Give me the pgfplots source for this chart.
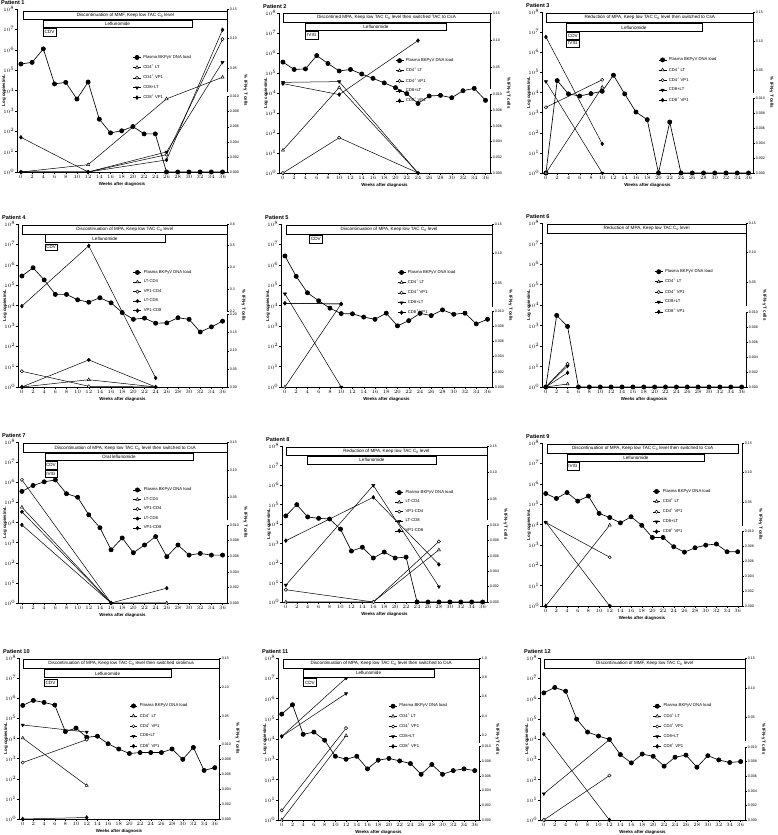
\documentclass[border=0pt]{standalone}
\usepackage{fontspec}
\setmainfont{Liberation Sans}
\usepackage{pgfplots}
\pgfplotsset{compat=1.18}
\newcommand{\setmap}[5]{\def\mapL{#1}\def\mappL{#2}\def\mapUz{#3}\def\mappU{#4}\def\mapUo{#5}}
\newcommand{\tmapexpr}{10^(\thisrow{v}>\mapL ? \mappU+(\thisrow{v}-\mapUz)/(\mapUo-\mapUz)*(8-\mappU) : \thisrow{v}/\mapL*\mappL)}
\newcommand{\legA}{\legend{Plasma BKPyV DNA load, CD4\textsuperscript{+} LT, CD4\textsuperscript{+} VP1, CD8+LT, CD8\textsuperscript{+} VP1}}
\newcommand{\legB}{\legend{Plasma BKPyV DNA load, LT-CD4, VP1-CD4, LT-CD8, VP1-CD8}}
\tikzset{
  ptitle/.style={anchor=south west, font=\bfseries\fontsize{5.6}{6}\selectfont, inner sep=0pt, xshift=-16pt, yshift=4pt},
  boxsty/.style={draw=black, line width=0.5pt, fill=white},
  boxtxt/.style={font=\fontsize{4.6}{5}\selectfont, inner sep=0pt, text=black},
  axseg/.style={line width=0.5pt, black},
}
\pgfplotsset{
  shortleg/.style={legend image code/.code={\draw[mark repeat=2,mark phase=2,##1] plot coordinates {(0cm,0cm) (0.14cm,0cm) (0.28cm,0cm)};}},
  mainax/.style={scale only axis, anchor=north west, clip=false,
    xmin=-0.7, xmax=36.8, ymin=1, ymax=1e8,
    axis x line*=bottom, axis y line*=left,
    axis line style={-, line width=0.5pt},
    xtick={0,2,...,36}, ytick={1,10,100,1000,1e4,1e5,1e6,1e7,1e8},
    yminorticks=false,
    tick align=outside, major tick length=1.6pt, tick style={line width=0.4pt, black},
    tick label style={font=\fontsize{3.6}{4}\selectfont, inner sep=1pt},
    xlabel={Weeks after diagnosis}, ylabel={Log copies/mL},
    every axis label/.append style={font=\bfseries\fontsize{4.4}{5}\selectfont},
    every axis y label/.style={at={(rel axis cs:0,0.5)}, xshift=-13pt, rotate=90, anchor=center, font=\bfseries\fontsize{4.4}{5}\selectfont},
    legend style={at={(0.55,0.73)}, anchor=north west, draw=none, fill=none,
      font=\fontsize{4.2}{4.6}\selectfont, inner sep=0pt, row sep=1.1pt},
    legend cell align=left,
  },
  rightax/.style={scale only axis, anchor=north west, clip=false,
    xmin=-0.7, xmax=36.8, ymin=0, ymax=8,
    axis x line=none, axis y line*=right, axis line style={draw=none},
    tick align=outside, major tick length=1.6pt, tick style={line width=0.4pt, black},
    yticklabel style={font=\fontsize{3.6}{4}\selectfont, inner sep=1pt},
    ylabel={\% IFN-γ T cells}, ylabel style={font=\bfseries\fontsize{4.4}{5}\selectfont, rotate=180},
  },
  sPlasma/.style={shortleg, black, line width=0.65pt, mark=*, mark size=2.1pt},
  sCfourLT/.style={shortleg, black, line width=0.5pt, mark=triangle*, mark options={fill=white}, mark size=1.8pt},
  sCfourVP/.style={shortleg, black, line width=0.5pt, mark=*, mark options={fill=white}, mark size=1.6pt},
  sCeightLT/.style={shortleg, black, line width=0.5pt, mark=triangle*, mark options={rotate=180}, mark size=1.8pt},
  sCeightVP/.style={shortleg, black, line width=0.5pt, mark=diamond*, mark size=1.9pt},
}
\begin{document}
\begin{tikzpicture}
\useasboundingbox (0,0) rectangle (778pt,835pt);
% ================= Patient 1
\setmap{0.01}{3.7}{0.01}{3.95}{0.15}
\begin{axis}[mainax, ymode=log, at={(17pt,826pt)}, width=210pt, height=163pt]
\addplot[sPlasma] coordinates {(0,2.0e5)(2,2.4e5)(4,1.1e6)(6,2.1e4)(8,2.5e4)(10,3.8e3)(12,2.6e4)(14,390)(16,83)(18,105)(20,170)(22,74)(24,74)(26,1)(28,1)(30,1)(32,1)(34,1)(36,1)};
\addplot[sCfourLT] table[x=w,y expr=\tmapexpr,row sep=\\]{w v\\0 0\\12 0.00097\\26 0.0097\\36 0.0342\\};
\addplot[sCfourVP] table[x=w,y expr=\tmapexpr,row sep=\\]{w v\\0 0\\12 0\\26 0.0023\\36 0.0988\\};
\addplot[sCeightLT] table[x=w,y expr=\tmapexpr,row sep=\\]{w v\\0 0\\12 0\\26 0.00266\\36 0.0598\\};
\addplot[sCeightVP] table[x=w,y expr=\tmapexpr,row sep=\\]{w v\\0 0.0046\\12 0\\26 0.0016\\36 0.1147\\};
\legA
\node[ptitle] at (rel axis cs:0,1) {Patient 1};
\end{axis}
\begin{axis}[rightax, at={(17pt,826pt)}, width=210pt, height=163pt,
  ytick={0,0.74,1.48,2.22,2.96,3.7,5.107,6.554,8}, yticklabels={0.000,0.002,0.004,0.006,0.008,0.010,0.05,0.10,0.15}]
\draw[axseg] (axis cs:36.8,0) -- (axis cs:36.8,3.7);
\draw[axseg] (axis cs:36.8,3.95) -- (axis cs:36.8,8);
\draw[boxsty] (axis cs:0.5,7.5) rectangle node[boxtxt]{Discontinuation of MMF, Keep low TAC C\textsubscript{0} level} (axis cs:36.8,7.9);
\draw[boxsty] (axis cs:3.9,7.08) rectangle node[boxtxt]{Leflunomide} (axis cs:30.6,7.46);
\draw[boxsty] (axis cs:3.9,6.67) rectangle node[boxtxt]{CDV} (axis cs:6.3,7.05);
\end{axis}
% ================= Patient 2
\setmap{0.01}{3.92}{0.01}{4.2}{0.15}
\begin{axis}[mainax, ymode=log, at={(279pt,822pt)}, width=211pt, height=160pt]
\addplot[sPlasma] coordinates {(0,3.5e5)(2,1.5e5)(4,1.6e5)(6,7.4e5)(8,3.0e5)(10,1.26e5)(12,1.5e5)(14,8.9e4)(16,5.4e4)(18,3.2e4)(20,1.85e4)(22,9.3e3)(24,3.0e3)(26,7.1e3)(28,7.6e3)(30,5.8e3)(32,1.3e4)(34,1.7e4)(36,4.3e3)};
\addplot[sCfourLT] table[x=w,y expr=\tmapexpr,row sep=\\]{w v\\0 0.0029\\10 0.0126\\24 0\\};
\addplot[sCfourVP] table[x=w,y expr=\tmapexpr,row sep=\\]{w v\\0 0\\10 0.0045\\24 0\\};
\addplot[sCeightLT] table[x=w,y expr=\tmapexpr,row sep=\\]{w v\\0 0.0222\\10 0.0236\\24 0\\};
\addplot[sCeightVP] table[x=w,y expr=\tmapexpr,row sep=\\]{w v\\0 0.0199\\10 0.0100\\24 0.0992\\};
\legA
\node[ptitle] at (rel axis cs:0,1) {Patient 2};
\end{axis}
\begin{axis}[rightax, at={(279pt,822pt)}, width=211pt, height=160pt,
  ytick={0,0.784,1.568,2.352,3.136,3.92,5.286,6.643,8}, yticklabels={0.000,0.002,0.004,0.006,0.008,0.010,0.05,0.10,0.15}]
\draw[axseg] (axis cs:36.8,0) -- (axis cs:36.8,3.92);
\draw[axseg] (axis cs:36.8,4.2) -- (axis cs:36.8,8);
\draw[boxsty] (axis cs:0,7.55) rectangle node[boxtxt]{Discontined MPA, Keep low TAC C\textsubscript{0} level then switched TAC to CsA} (axis cs:36.8,7.97);
\draw[boxsty] (axis cs:3.95,7.13) rectangle node[boxtxt]{Leflunomide} (axis cs:29.1,7.5);
\draw[boxsty] (axis cs:3.95,6.7) rectangle node[boxtxt]{IVIG} (axis cs:6.3,7.08);
\end{axis}
% ================= Patient 3
\setmap{0.01}{3.71}{0.01}{3.95}{0.15}
\begin{axis}[mainax, ymode=log, at={(542pt,823pt)}, width=211pt, height=161pt]
\addplot[sPlasma] coordinates {(0,1)(2,3.9e4)(4,8.5e3)(6,6.7e3)(8,8.8e3)(10,1.15e4)(12,7.2e4)(14,8.5e3)(16,1.07e3)(18,445)(20,1)(22,340)(24,1)(26,1)(28,1)(30,1)(32,1)(34,1)(36,1)};
\addplot[sCfourLT] table[x=w,y expr=\tmapexpr,row sep=\\]{w v\\0 0\\10 0.0207\\};
\addplot[sCfourVP] table[x=w,y expr=\tmapexpr,row sep=\\]{w v\\0 0.0088\\10 0.0335\\};
\addplot[sCeightLT] table[x=w,y expr=\tmapexpr,row sep=\\]{w v\\0 0.0304\\10 0\\};
\addplot[sCeightVP] table[x=w,y expr=\tmapexpr,row sep=\\]{w v\\0 0.107\\10 0.0039\\};
\legA
\node[ptitle] at (rel axis cs:0,1) {Patient 3};
\end{axis}
\begin{axis}[rightax, at={(542pt,823pt)}, width=211pt, height=161pt,
  ytick={0,0.742,1.484,2.226,2.968,3.71,5.107,6.554,8}, yticklabels={0.000,0.002,0.004,0.006,0.008,0.010,0.05,0.10,0.15}]
\draw[axseg] (axis cs:36.8,0) -- (axis cs:36.8,3.71);
\draw[axseg] (axis cs:36.8,3.95) -- (axis cs:36.8,8);
\draw[boxsty] (axis cs:0.1,7.49) rectangle node[boxtxt]{Reduction of MPA, Keep low TAC C\textsubscript{0} level then switched to CsA} (axis cs:36.8,7.94);
\draw[boxsty] (axis cs:3.6,7.02) rectangle node[boxtxt]{Leflunomide} (axis cs:27.7,7.44);
\draw[boxsty] (axis cs:3.6,6.65) rectangle node[boxtxt]{CDV} (axis cs:5.95,7.0);
\draw[boxsty] (axis cs:3.6,6.26) rectangle node[boxtxt]{IVIG} (axis cs:5.95,6.62);
\end{axis}
% ================= Patient 4
\setmap{0.2}{3.56}{0.2}{3.74}{0.6}
\begin{axis}[mainax, ymode=log, at={(18pt,611pt)}, width=209pt, height=163pt]
\addplot[sPlasma] coordinates {(0,2.8e5)(2,7.1e5)(4,1.8e5)(6,3.5e4)(8,3.5e4)(10,1.9e4)(12,1.45e4)(14,2.4e4)(16,1.35e4)(18,4.5e3)(20,2.1e3)(22,2.4e3)(24,1.35e3)(26,1.4e3)(28,2.5e3)(30,2.1e3)(32,500)(34,890)(36,1.7e3)};
\addplot[sCfourLT] table[x=w,y expr=\tmapexpr,row sep=\\]{w v\\0 0\\12 0.020\\24 0\\};
\addplot[sCfourVP] table[x=w,y expr=\tmapexpr,row sep=\\]{w v\\0 0.0433\\12 0.002\\24 0\\};
\addplot[sCeightLT, mark=*, mark options={}, mark size=1.6pt] table[x=w,y expr=\tmapexpr,row sep=\\]{w v\\0 0\\12 0.0747\\24 0\\};
\addplot[sCeightVP] table[x=w,y expr=\tmapexpr,row sep=\\]{w v\\0 0.2216\\12 0.4996\\24 0.0247\\};
\legB
\node[ptitle] at (rel axis cs:0,1) {Patient 4};
\end{axis}
\begin{axis}[rightax, at={(18pt,611pt)}, width=209pt, height=163pt,
  ytick={0,0.89,1.78,2.67,3.56,3.74,4.805,5.87,6.935,8}, yticklabels={0.00,0.05,0.10,0.15,0.20,0.2,0.3,0.4,0.5,0.6}]
\draw[axseg] (axis cs:36.8,0) -- (axis cs:36.8,3.56);
\draw[axseg] (axis cs:36.8,3.74) -- (axis cs:36.8,8);
\draw[boxsty] (axis cs:0.1,7.52) rectangle node[boxtxt]{Discontinuation of MPA, Keep low TAC C\textsubscript{0} level} (axis cs:36.8,7.92);
\draw[boxsty] (axis cs:4.1,7.1) rectangle node[boxtxt]{Leflunomide} (axis cs:25.7,7.48);
\draw[boxsty] (axis cs:4.1,6.69) rectangle node[boxtxt]{CDV} (axis cs:6.4,7.03);
\end{axis}
% ================= Patient 5
\setmap{0.01}{3.72}{0.01}{3.95}{0.15}
\begin{axis}[mainax, ymode=log, at={(281pt,611pt)}, width=211pt, height=163pt]
\addplot[sPlasma] coordinates {(0,2.7e6)(2,2.7e5)(4,4.2e4)(6,1.7e4)(8,7.4e3)(10,4.0e3)(12,3.9e3)(14,2.7e3)(16,2.1e3)(18,4.2e3)(20,1.0e3)(22,1.8e3)(24,4.1e3)(26,3.2e3)(28,6.1e3)(30,3.7e3)(32,4.2e3)(34,1.25e3)(36,2.1e3)};
\addplot[sCfourLT] table[x=w,y expr=\tmapexpr,row sep=\\]{w v\\0 0\\10 0.0145\\};
\addplot[sCfourVP] table[x=w,y expr=\tmapexpr,row sep=\\]{w v\\0 0.0155\\10 0.0143\\};
\addplot[sCeightLT] table[x=w,y expr=\tmapexpr,row sep=\\]{w v\\0 0.0314\\10 0\\};
\addplot[sCeightVP] table[x=w,y expr=\tmapexpr,row sep=\\]{w v\\0 0.0155\\10 0.0143\\};
\legA
\node[ptitle] at (rel axis cs:0,1) {Patient 5};
\end{axis}
\begin{axis}[rightax, at={(281pt,611pt)}, width=211pt, height=163pt,
  ytick={0,0.744,1.488,2.232,2.976,3.72,5.107,6.554,8}, yticklabels={0.000,0.002,0.004,0.006,0.008,0.010,0.05,0.10,0.15}]
\draw[axseg] (axis cs:36.8,0) -- (axis cs:36.8,3.72);
\draw[axseg] (axis cs:36.8,3.95) -- (axis cs:36.8,8);
\draw[boxsty] (axis cs:0.2,7.52) rectangle node[boxtxt]{Discontinuation of MPA, Keep low TAC C\textsubscript{0} level} (axis cs:36.8,7.95);
\draw[boxsty] (axis cs:4.4,7.07) rectangle node[boxtxt]{CDV} (axis cs:6.6,7.43);
\end{axis}
% ================= Patient 6
\setmap{0.01}{3.64}{0.01}{3.95}{0.15}
\begin{axis}[mainax, ymode=log, at={(542pt,612pt)}, width=204pt, height=164pt]
\addplot[sPlasma] coordinates {(0,1)(2,3.1e3)(4,900)(6,1)(8,1)(10,1)(12,1)(14,1)(16,1)(18,1)(20,1)(22,1)(24,1)(26,1)(28,1)(30,1)(32,1)(34,1)(36,1)};
\addplot[sCfourLT] table[x=w,y expr=\tmapexpr,row sep=\\]{w v\\0 0\\4 0.0004\\};
\addplot[sCfourVP] table[x=w,y expr=\tmapexpr,row sep=\\]{w v\\0 0\\4 0.0031\\};
\addplot[sCeightLT] table[x=w,y expr=\tmapexpr,row sep=\\]{w v\\0 0\\4 0.0028\\};
\addplot[sCeightVP] table[x=w,y expr=\tmapexpr,row sep=\\]{w v\\0 0\\4 0.0019\\};
\legA
\node[ptitle] at (rel axis cs:0,1) {Patient 6};
\end{axis}
\begin{axis}[rightax, at={(542pt,612pt)}, width=204pt, height=164pt,
  ytick={0,0.728,1.456,2.184,2.912,3.64,5.107,6.554,8}, yticklabels={0.000,0.002,0.004,0.006,0.008,0.010,0.05,0.10,0.15}]
\draw[axseg] (axis cs:36.8,0) -- (axis cs:36.8,3.64);
\draw[axseg] (axis cs:36.8,3.95) -- (axis cs:36.8,8);
\draw[boxsty] (axis cs:0.25,7.49) rectangle node[boxtxt]{Reduction of MPA, Keep low TAC C\textsubscript{0} level} (axis cs:36.8,7.95);
\end{axis}
% ================= Patient 7
\setmap{0.01}{3.88}{0.01}{4.13}{0.15}
\begin{axis}[mainax, ymode=log, at={(18pt,393pt)}, width=209pt, height=161pt]
\addplot[sPlasma] coordinates {(0,3.5e5)(2,6.9e5)(4,1.05e6)(6,1.3e6)(8,2.7e5)(10,1.8e5)(12,2.4e4)(14,5.5e3)(16,440)(18,1.7e3)(20,315)(22,760)(24,2.0e3)(26,200)(28,760)(30,240)(32,290)(34,240)(36,240)};
\addplot[sCfourLT] table[x=w,y expr=\tmapexpr,row sep=\\]{w v\\0 0.0328\\16 0\\26 0\\};
\addplot[sCfourVP] table[x=w,y expr=\tmapexpr,row sep=\\]{w v\\0 0.082\\16 0\\};
\addplot[sCeightLT, mark=*, mark options={}, mark size=1.6pt] table[x=w,y expr=\tmapexpr,row sep=\\]{w v\\0 0.0245\\16 0\\};
\addplot[sCeightVP] table[x=w,y expr=\tmapexpr,row sep=\\]{w v\\0 0.0100\\16 0\\26 0.0019\\};
\legB
\node[ptitle] at (rel axis cs:0,1) {Patient 7};
\end{axis}
\begin{axis}[rightax, at={(18pt,393pt)}, width=209pt, height=161pt,
  ytick={0,0.776,1.552,2.328,3.104,3.88,5.236,6.618,8}, yticklabels={0.000,0.002,0.004,0.006,0.008,0.010,0.05,0.10,0.15}]
\draw[axseg] (axis cs:36.8,0) -- (axis cs:36.8,3.88);
\draw[axseg] (axis cs:36.8,4.13) -- (axis cs:36.8,8);
\draw[boxsty] (axis cs:0.25,7.49) rectangle node[boxtxt]{Discontinuation of MPA, Keep low TAC C\textsubscript{0} level then switched to CsA} (axis cs:36.8,7.92);
\draw[boxsty] (axis cs:4.1,7.07) rectangle node[boxtxt]{Oral leflunomide} (axis cs:30.7,7.45);
\draw[boxsty] (axis cs:4.1,6.66) rectangle node[boxtxt]{CDV} (axis cs:6.3,7.02);
\draw[boxsty] (axis cs:4.1,6.24) rectangle node[boxtxt]{IVIG} (axis cs:6.3,6.61);
\end{axis}
% ================= Patient 8
\setmap{0.01}{3.93}{0.01}{4.19}{0.15}
\begin{axis}[mainax, ymode=log, at={(282pt,389pt)}, width=205pt, height=156pt]
\addplot[sPlasma] coordinates {(0,2.6e4)(2,9.8e4)(4,2.3e4)(6,1.95e4)(8,1.8e4)(10,5.5e3)(12,410)(14,640)(16,180)(18,365)(20,180)(22,200)(24,1)(26,1)(28,1)(30,1)(32,1)(34,1)(36,1)};
\addplot[sCfourLT] table[x=w,y expr=\tmapexpr,row sep=\\]{w v\\0 0\\16 0\\28 0.0068\\};
\addplot[sCfourVP] table[x=w,y expr=\tmapexpr,row sep=\\]{w v\\0 0.0016\\16 0\\28 0.0079\\};
\addplot[sCeightLT] table[x=w,y expr=\tmapexpr,row sep=\\]{w v\\0 0.0022\\16 0.0758\\28 0.002\\};
\addplot[sCeightVP] table[x=w,y expr=\tmapexpr,row sep=\\]{w v\\0 0.008\\16 0.0533\\28 0.0049\\};
\legB
\node[ptitle] at (rel axis cs:0,1) {Patient 8};
\end{axis}
\begin{axis}[rightax, at={(282pt,389pt)}, width=205pt, height=156pt,
  ytick={0,0.786,1.572,2.358,3.144,3.93,5.279,6.639,8}, yticklabels={0.000,0.002,0.004,0.006,0.008,0.010,0.05,0.10,0.15}]
\draw[axseg] (axis cs:36.8,0) -- (axis cs:36.8,3.93);
\draw[axseg] (axis cs:36.8,4.19) -- (axis cs:36.8,8);
\draw[boxsty] (axis cs:0,7.52) rectangle node[boxtxt]{Reduction of MPA, Keep low TAC C\textsubscript{0} level} (axis cs:36.8,7.95);
\draw[boxsty] (axis cs:4,7.04) rectangle node[boxtxt]{Leflunomide} (axis cs:27.5,7.49);
\end{axis}
% ================= Patient 9
\setmap{0.01}{3.68}{0.01}{3.94}{0.15}
\begin{axis}[mainax, ymode=log, at={(542pt,392pt)}, width=200pt, height=163pt]
\addplot[sPlasma] coordinates {(0,3.3e5)(2,1.9e5)(4,3.7e5)(6,1.4e5)(8,2.5e5)(10,3.5e4)(12,2.2e4)(14,1.2e4)(16,2.4e4)(18,9.1e3)(20,2.3e3)(22,2.3e3)(24,810)(26,440)(28,720)(30,970)(32,1.1e3)(34,460)(36,460)};
\addplot[sCfourLT] table[x=w,y expr=\tmapexpr,row sep=\\]{w v\\0 0\\12 0.011\\};
\addplot[sCfourVP] table[x=w,y expr=\tmapexpr,row sep=\\]{w v\\0 0.0155\\12 0.0065\\};
\addplot[sCeightLT] table[x=w,y expr=\tmapexpr,row sep=\\]{w v\\0 0.016\\12 0\\};
\addplot[sCeightVP] table[x=w,y expr=\tmapexpr,row sep=\\]{w v\\0 0\\12 0\\};
\legA
\node[ptitle] at (rel axis cs:0,1) {Patient 9};
\end{axis}
\begin{axis}[rightax, at={(542pt,392pt)}, width=200pt, height=163pt,
  ytick={0,0.736,1.472,2.208,2.944,3.68,5.10,6.55,8}, yticklabels={0.000,0.002,0.004,0.006,0.008,0.010,0.05,0.10,0.15}]
\draw[axseg] (axis cs:36.8,0) -- (axis cs:36.8,3.68);
\draw[axseg] (axis cs:36.8,3.94) -- (axis cs:36.8,8);
\draw[boxsty] (axis cs:0.25,7.5) rectangle node[boxtxt]{Discontinuation of MPA, Keep low TAC C\textsubscript{0} level then switched to CsA} (axis cs:36.1,7.95);
\draw[boxsty] (axis cs:4,7.09) rectangle node[boxtxt]{Leflunomide} (axis cs:29.8,7.47);
\draw[boxsty] (axis cs:4,6.68) rectangle node[boxtxt]{IVIG} (axis cs:6.2,7.04);
\end{axis}
% ================= Patient 10
\setmap{0.01}{3.69}{0.01}{3.94}{0.15}
\begin{axis}[mainax, ymode=log, at={(19pt,177pt)}, width=200pt, height=161pt]
\addplot[sPlasma] coordinates {(0,4.4e5)(2,7.8e5)(4,6.2e5)(6,4.6e5)(8,2.2e4)(10,3.3e4)(12,1.15e4)(14,1.3e4)(16,5.5e3)(18,3.0e3)(20,1.8e3)(22,2.0e3)(24,2.0e3)(26,2.0e3)(28,3.0e3)(30,920)(32,3.6e3)(34,260)(36,355)};
\addplot[sCfourLT] table[x=w,y expr=\tmapexpr,row sep=\\]{w v\\0 0.0128\\12 0.0045\\};
\addplot[sCfourVP] table[x=w,y expr=\tmapexpr,row sep=\\]{w v\\0 0.0076\\12 0.0101\\};
\addplot[sCeightLT] table[x=w,y expr=\tmapexpr,row sep=\\]{w v\\0 0.0352\\12 0.0231\\};
\addplot[sCeightVP] table[x=w,y expr=\tmapexpr,row sep=\\]{w v\\0 0\\12 0.0002\\};
\legA
\node[ptitle] at (rel axis cs:0,1) {Patient 10};
\end{axis}
\begin{axis}[rightax, at={(19pt,177pt)}, width=200pt, height=161pt,
  ytick={0,0.738,1.476,2.214,2.952,3.69,5.10,6.55,8}, yticklabels={0.000,0.002,0.004,0.006,0.008,0.010,0.05,0.10,0.15}]
\draw[axseg] (axis cs:36.8,0) -- (axis cs:36.8,3.69);
\draw[axseg] (axis cs:36.8,3.94) -- (axis cs:36.8,8);
\draw[boxsty] (axis cs:0.1,7.5) rectangle node[boxtxt]{Discontinuation of MPA, Keep low TAC C\textsubscript{0} level then switched sirolimus} (axis cs:36.8,7.95);
\draw[boxsty] (axis cs:4,7.04) rectangle node[boxtxt]{Leflunomide} (axis cs:27.8,7.42);
\draw[boxsty] (axis cs:4,6.62) rectangle node[boxtxt]{CDV} (axis cs:6.4,6.95);
\end{axis}
% ================= Patient 11
\setmap{0.01}{3.63}{0.2}{4.19}{1.0}
\begin{axis}[mainax, ymode=log, at={(278pt,177pt)}, width=201pt, height=162pt]
\addplot[sPlasma] coordinates {(0,1.7e5)(2,4.9e5)(4,1.7e4)(6,2.2e4)(8,8.7e3)(10,1.4e3)(12,1.0e3)(14,1.4e3)(16,335)(18,900)(20,1.1e3)(22,830)(24,615)(26,180)(28,550)(30,180)(32,275)(34,335)(36,275)};
\addplot[sCfourLT] table[x=w,y expr=\tmapexpr,row sep=\\]{w v\\0 0\\12 0.194\\};
\addplot[sCfourVP] table[x=w,y expr=\tmapexpr,row sep=\\]{w v\\0 0.0013\\12 0.273\\};
\addplot[sCeightLT] table[x=w,y expr=\tmapexpr,row sep=\\]{w v\\0 0.187\\12 0.631\\};
\addplot[sCeightVP] table[x=w,y expr=\tmapexpr,row sep=\\]{w v\\0 0.187\\12 0.792\\};
\legA
\node[ptitle] at (rel axis cs:0,1) {Patient 11};
\end{axis}
\begin{axis}[rightax, at={(278pt,177pt)}, width=201pt, height=162pt,
  ytick={0,0.726,1.452,2.178,2.904,3.63,4.19,5.143,6.095,7.048,8}, yticklabels={0.000,0.002,0.004,0.006,0.008,0.010,0.2,0.4,0.6,0.8,1.0}]
\draw[axseg] (axis cs:36.8,0) -- (axis cs:36.8,3.63);
\draw[axseg] (axis cs:36.8,3.8) -- (axis cs:36.8,8);
\draw[boxsty] (axis cs:0.3,7.5) rectangle node[boxtxt]{Discontinuation of MPA, Keep low TAC C\textsubscript{0} level then switched to CsA} (axis cs:36.8,7.95);
\draw[boxsty] (axis cs:4,7.06) rectangle node[boxtxt]{Leflunomide} (axis cs:28.4,7.46);
\draw[boxsty] (axis cs:4,6.6) rectangle node[boxtxt]{CDV} (axis cs:6.5,6.98);
\end{axis}
% ================= Patient 12
\setmap{0.01}{3.6}{0.01}{3.88}{0.15}
\begin{axis}[mainax, ymode=log, at={(540pt,177pt)}, width=205pt, height=162pt]
\addplot[sPlasma] coordinates {(0,1.9e6)(2,3.5e6)(4,2.3e6)(6,9.6e4)(8,2.2e4)(10,1.4e4)(12,9.5e3)(14,1.7e3)(16,660)(18,1.8e3)(20,1.4e3)(22,455)(24,1.26e3)(26,1.6e3)(28,405)(30,1.5e3)(32,930)(34,690)(36,770)};
\addplot[sCfourLT] table[x=w,y expr=\tmapexpr,row sep=\\]{w v\\0 0\\12 0\\};
\addplot[sCfourVP] table[x=w,y expr=\tmapexpr,row sep=\\]{w v\\0 0\\12 0.0061\\};
\addplot[sCeightLT] table[x=w,y expr=\tmapexpr,row sep=\\]{w v\\0 0.0036\\12 0.013\\};
\addplot[sCeightVP] table[x=w,y expr=\tmapexpr,row sep=\\]{w v\\0 0.0222\\12 0\\};
\legA
\node[ptitle] at (rel axis cs:0,1) {Patient 12};
\end{axis}
\begin{axis}[rightax, at={(540pt,177pt)}, width=205pt, height=162pt,
  ytick={0,0.72,1.44,2.16,2.88,3.6,5.057,6.529,8}, yticklabels={0.000,0.002,0.004,0.006,0.008,0.010,0.05,0.10,0.15}]
\draw[axseg] (axis cs:36.8,0) -- (axis cs:36.8,3.6);
\draw[axseg] (axis cs:36.8,3.88) -- (axis cs:36.8,8);
\draw[boxsty] (axis cs:0.1,7.5) rectangle node[boxtxt]{Discontinuation of MMF, Keep low TAC C\textsubscript{0} level} (axis cs:36.8,7.95);
\end{axis}
\end{tikzpicture}
\end{document}
